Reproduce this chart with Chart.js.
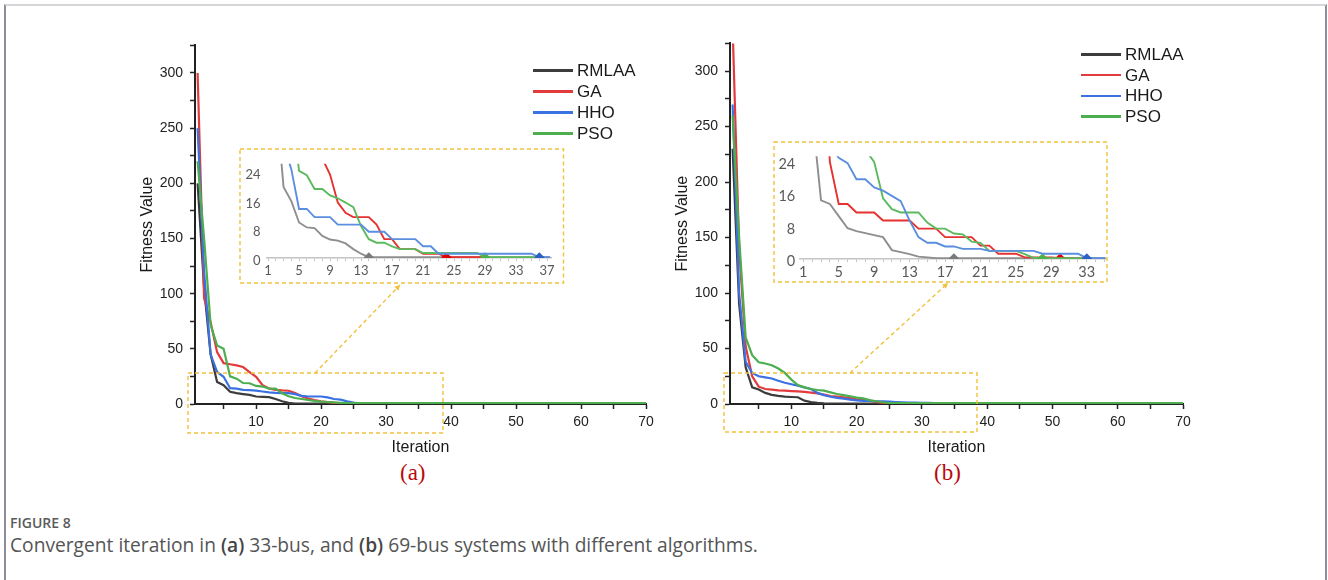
<!DOCTYPE html>
<html>
<head>
<meta charset="utf-8">
<script src="https://cdn.jsdelivr.net/npm/chart.js@4.4.1/dist/chart.umd.min.js"></script>
<style>
  body { margin:0; width:1328px; height:580px; overflow:hidden; position:relative; background:#fff;
         font-family:"Liberation Sans", Arial, sans-serif; }
  #frame { position:absolute; left:4px; top:4px; width:1323px; height:580px; box-sizing:border-box;
           border-top:2px solid #d6d6d8; border-left:2px solid #8e8e9a; border-right:2px solid #8e8e9a; }
  canvas { position:absolute; }
  .leg { position:absolute; height:20px; line-height:20px; font-size:17px; color:#1a1a1a; white-space:nowrap; }
  .leg span { display:inline-block; width:40px; height:2.5px; vertical-align:middle; margin-right:4px; position:relative; top:-1px; }
  .tag { position:absolute; font-family:"Liberation Serif", "Times New Roman", serif; font-size:23px; color:#b80c0c; }
  #figno { position:absolute; left:10px; top:513px; font-family:"Open Sans", Lato, sans-serif; font-size:14px; font-weight:600; color:#5a5a5a; }
  #caption { position:absolute; left:10px; top:531px; font-family:"Open Sans", Lato, sans-serif; font-size:19.2px; color:#555; }
  #caption b { color:#444; font-weight:600; }
</style>
</head>
<body>
<div id="frame"></div>
<canvas id="mainA" width="550" height="430" style="left:120px;top:30px"></canvas>
<canvas id="mainB" width="550" height="432" style="left:655px;top:28px"></canvas>
<canvas id="insetA" width="321" height="132" style="left:241px;top:150px"></canvas>
<canvas id="insetB" width="331" height="138" style="left:775px;top:143px"></canvas>
<div class="tag" style="left:400px;top:460px">(a)</div>
<div class="tag" style="left:934px;top:460px">(b)</div>
<div id="figno">FIGURE 8</div>
<div id="caption">Convergent iteration in <b>(a)</b> 33-bus, and <b>(b)</b> 69-bus systems with different algorithms.</div>
<script>
const seriesNames = ['RMLAA', 'GA', 'HHO', 'PSO'];
const mainColors = ['#3c3c3c', '#e23b3d', '#3b72e2', '#4cae4f'];
const insetColors = ['#8e8e8e', '#e5312f', '#5b8ede', '#5cba5e'];
const markColors = ['#7a7a7a', '#e00000', '#2b62c2', '#4db347'];
const lastIter = 70;

// main axes
const xTicksMain = [5,10,15,20,25,30,35,40,45,50,55,60,65,70];
const xLabelsMain = [10,20,30,40,50,60,70];
const yTicksMain = [0,25,50,75,100,125,150,175,200,225,250,275,300,325];
const yLabelsMain = [0,50,100,150,200,250,300];

// (a) 33-bus, fitness per iteration starting at 1 (last value holds to iteration 70)
const rmlaaA = [200, 105, 45, 20, 17, 11, 9.8, 9, 8.3, 6.8, 6.5, 6.2, 4.5, 2.5, 1, 0.3];
const gaA    = [300, 96, 74, 47, 37, 36, 35, 33.5, 29, 24.7, 17, 14, 12.8, 12.3, 12, 10, 7, 5, 3.5, 2.5, 1.7, 1, 0.5, 0.3];
const hhoA   = [250, 120, 45, 29, 24.7, 14.3, 14, 12.8, 12.5, 12.2, 11.3, 10.5, 10, 9.9, 9.8, 9, 7.4, 6.8, 6.8, 6.8, 6, 4.5, 3.9, 2.4, 1.2, 0.4];
const psoA   = [220, 150, 72, 53, 50, 25, 23, 19, 18.8, 16.4, 15.8, 14, 14, 9.8, 7, 5.4, 4.5, 3.6, 2.8, 2.2, 1.8, 1.4, 1.1, 0.9, 0.8];

// (b) 69-bus
const rmlaaB = [230, 90, 33, 15, 13, 10, 8.2, 7.3, 6.6, 6.3, 6.1, 3, 1.7, 1, 0.5, 0.3];
const gaB    = [340, 140, 52, 25, 15.6, 13.5, 13, 12.3, 12, 11.6, 11.3, 11, 10.3, 9.6, 8.5, 7.2, 6.6, 6.1, 5.3, 4.3, 3.6, 2.9, 1.9, 1, 0.3];
const hhoB   = [270, 100, 38, 28, 25, 24, 23, 21, 19.2, 17.8, 16.5, 15, 13.5, 10, 8, 6.5, 5.5, 4.8, 4, 3.3, 2.9, 2.7, 2.5, 2.4, 2.1, 1.8, 1.5, 1.3, 1.2, 1.1, 1, 0.9, 0.9, 0.5, 0.3];
const psoB   = [260, 150, 60, 44, 37.6, 36.5, 35, 32, 28, 22, 17, 15, 13.5, 12.6, 12, 10.5, 9, 8, 7, 5.8, 5, 3.5, 2.5, 1.6, 0.9, 0.8];

// zoomed insets (iterations 1..37 / 1..35)
const insYTicks = [0, 8, 16, 24];
const insXLabels = [1,5,9,13,17,21,25,29,33,37];

const rmlaaInsA = [200, 45, 20, 16, 10, 8.6, 8.4, 6.2, 5.2, 4.9, 4.1, 2.5, 1.2, 0.2];
const gaInsA    = [300, 96, 74, 47, 37, 36, 34, 28, 23.5, 15.6, 12.7, 11.5, 11.5, 11.5, 9.4, 5.3, 5.3, 2.5, 2.5, 2.5, 1.2, 1.2, 1.2, 0.2];
const hhoInsA   = [250, 100, 32, 25, 13.8, 13.8, 11.5, 11.5, 11.5, 9.4, 9.4, 9.4, 9.4, 7.4, 7.4, 7.4, 5.3, 5.3, 5.3, 5.3, 3.3, 3.3,
                   1.2, 1.2, 1.2, 1.2, 1.2, 1.2, 1.2, 1.2, 1.2, 1.2, 1.2, 1.2, 1.2, 0.2];
const psoInsA   = [220, 150, 72, 43, 24.5, 23.3, 19.4, 19.4, 17.6, 16.8, 15.6, 14.3, 9, 5.3, 4.3, 4.3, 3.3, 2.5, 2.5, 2.5,
                   1.4, 1.4, 1.4, 1.4, 1.4, 1.4, 1.4, 1.4, 0.2];
const endInsA = [37.4, 29, 37.4, 35.3];
const markInsA = [14, 24, 36, 29];

const rmlaaInsB = [230, 36, 14.5, 13.6, 10.6, 7.6, 6.9, 6.4, 5.9, 5.4, 2.2, 1.7, 1.2, 0.6, 0.4, 0.2, 0.2, 0.2];
const gaInsB    = [340, 140, 60, 24, 13.6, 13.6, 11.5, 11.5, 11.5, 9.5, 9.5, 9.5, 9.5, 7.5, 7.5, 7.5, 5.4, 5.4, 5.4, 5.4,
                   3.3, 3.3, 1.3, 1.3, 1.3, 0.4, 0.4, 0.4, 0.4, 0.2];
const hhoInsB   = [270, 100, 40, 28, 25, 23.7, 19.7, 19.7, 17.7, 16.9, 15.6, 14.3, 9.5, 5.4, 4, 4, 3.1, 3.1, 2.5, 2.5, 2.5,
                   2, 2, 2, 2, 2, 2, 1.3, 1.3, 1.3, 1.3, 1.3, 0.2];
const psoInsB   = [260, 150, 60, 44, 38, 36, 33, 27, 24, 15, 12.3, 11.5, 11.5, 11.5, 9, 7.5, 7.5, 6.3, 6.1, 4.3, 4, 2, 2, 2, 2, 1.2, 0.3, 0.2];
const endInsB = [35.2, 33, 35.2, 33];
const markInsB = [18, 30, 33, 28];

function toPoints(vals, endX) {
  const pts = vals.map((v, k) => ({x: k + 1, y: v}));
  pts.push({x: endX, y: vals[vals.length - 1]});
  return pts;
}

// dashed zoom boxes + link line, given in page pixels
function zoomMarks(g) {
  return {
    id: 'zoomMarks',
    afterDraw(chart) {
      const c = chart.ctx;
      c.save();
      c.translate(-g.ox, -g.oy);
      c.strokeStyle = '#f2c03c';
      c.fillStyle = '#f2c03c';
      c.lineWidth = 1.4;
      c.setLineDash([4, 3]);
      c.strokeRect(g.inset[0], g.inset[1], g.inset[2], g.inset[3]);
      c.strokeRect(g.win[0], g.win[1], g.win[2], g.win[3]);
      c.beginPath();
      c.moveTo(g.link[0], g.link[1]);
      c.lineTo(g.link[2], g.link[3]);
      c.stroke();
      c.setLineDash([]);
      const a = Math.atan2(g.link[3] - g.link[1], g.link[2] - g.link[0]);
      c.beginPath();
      c.moveTo(g.link[2], g.link[3]);
      c.lineTo(g.link[2] - 6 * Math.cos(a - 0.5), g.link[3] - 6 * Math.sin(a - 0.5));
      c.lineTo(g.link[2] - 6 * Math.cos(a + 0.5), g.link[3] - 6 * Math.sin(a + 0.5));
      c.closePath();
      c.fill();
      c.restore();
    }
  };
}

const axisFont = {family: '"Liberation Sans", Arial, sans-serif', size: 14};
const titleFont = {family: '"Liberation Sans", Arial, sans-serif', size: 16};

function mainChart(id, series, padRight, marks) {
  const order = [3, 2, 1, 0];
  return new Chart(document.getElementById(id), {
    type: 'line',
    data: {
      datasets: series.map((vals, k) => ({
        label: seriesNames[k],
        data: toPoints(vals, lastIter),
        borderColor: mainColors[k],
        borderWidth: 2.2,
        pointRadius: 0,
        tension: 0,
        order: order[k]
      }))
    },
    options: {
      responsive: false,
      animation: false,
      layout: {padding: {top: 10, right: padRight, left: 0, bottom: 0}},
      plugins: {legend: {display: false}, tooltip: {enabled: false}},
      scales: {
        x: {
          type: 'linear', min: 0.6, max: 70,
          afterBuildTicks: s => { s.ticks = xTicksMain.map(v => ({value: v})); },
          afterFit: s => { s.height = 56; },
          ticks: {callback: v => xLabelsMain.includes(v) ? v : '', autoSkip: false, maxRotation: 0,
                  padding: 5, color: '#222', font: axisFont},
          grid: {drawOnChartArea: false, tickLength: 5, tickColor: '#222', tickWidth: 1.5},
          border: {color: '#222', width: 2},
          title: {display: true, text: 'Iteration', color: '#1a1a1a', font: titleFont, padding: {top: 0, bottom: 2.4}}
        },
        y: {
          min: 0, max: 325,
          afterBuildTicks: s => { s.ticks = yTicksMain.map(v => ({value: v})); },
          afterFit: s => { s.width = 75; },
          ticks: {callback: v => yLabelsMain.includes(v) ? v : '', autoSkip: false, padding: 7, color: '#222', font: axisFont},
          grid: {drawOnChartArea: false, tickLength: 5, tickColor: '#222', tickWidth: 1.5},
          border: {color: '#222', width: 2},
          title: {display: true, text: 'Fitness Value', color: '#1a1a1a', font: titleFont, padding: {top: 18.4, bottom: 0}}
        }
      }
    },
    plugins: [zoomMarks(marks)]
  });
}

function insetChart(id, series, ends, marks, g) {
  const order = [3, 2, 0, 1];
  const xt = [];
  for (let i = 1; i <= g.lastTick; i++) xt.push(i);
  const f = {family: 'Lato, "Open Sans", sans-serif', size: g.font};
  return new Chart(document.getElementById(id), {
    type: 'line',
    data: {
      datasets: series.map((vals, k) => ({
        data: toPoints(vals, ends[k]),
        borderColor: insetColors[k],
        borderWidth: 1.9,
        tension: 0,
        order: order[k],
        pointStyle: 'rectRot',
        pointRadius: ctx => ctx.dataIndex === marks[k] - 1 ? 5 : 0,
        pointBackgroundColor: markColors[k],
        pointBorderWidth: 0
      }))
    },
    options: {
      responsive: false,
      animation: false,
      layout: {padding: {top: 0, right: g.padRight, left: 0, bottom: 0}},
      plugins: {legend: {display: false}, tooltip: {enabled: false}},
      scales: {
        x: {
          type: 'linear', min: g.xmin, max: g.xmax,
          afterBuildTicks: s => { s.ticks = xt.map(v => ({value: v})); },
          afterFit: s => { s.height = g.xh; },
          ticks: {callback: v => insXLabels.includes(v) ? v : '', autoSkip: false, maxRotation: 0,
                  padding: g.xpad, color: '#595959', font: f},
          grid: {drawOnChartArea: false, tickLength: 3, tickColor: '#c4c4c4', tickWidth: 1},
          border: {color: '#c4c4c4', width: 1.5}
        },
        y: {
          min: 0, max: g.ymax,
          afterBuildTicks: s => { s.ticks = insYTicks.map(v => ({value: v})); },
          afterFit: s => { s.width = g.yw; },
          ticks: {padding: g.ypad, labelOffset: 2.5, color: '#595959', font: f},
          grid: {display: false, drawTicks: false},
          border: {display: false}
        }
      }
    }
  });
}

mainChart('mainA', [rmlaaA, gaA, hhoA, psoA], 24,
  {ox: 120, oy: 30, inset: [240, 149, 323.5, 134], win: [188, 373, 255, 60], link: [315, 373, 400, 285]});
mainChart('mainB', [rmlaaB, gaB, hhoB, psoB], 22,
  {ox: 655, oy: 28, inset: [774, 142, 333, 140], win: [724, 373, 253, 59], link: [850, 373, 948, 283]});

insetChart('insetA', [rmlaaInsA, gaInsA, hhoInsA, psoInsA], endInsA, markInsA,
  {lastTick: 37, xmin: 0.8, xmax: 37.6, ymax: 26.5, xh: 24, yw: 25.5, padRight: 10.3, xpad: 2, ypad: 6, font: 13});
insetChart('insetB', [rmlaaInsB, gaInsB, hhoInsB, psoInsB], endInsB, markInsB,
  {lastTick: 35, xmin: 0.6, xmax: 35.1, ymax: 25.4, xh: 22, yw: 24.75, padRight: 0, xpad: 1.5, ypad: 4.5, font: 14.5});

function legend(left, top, step) {
  seriesNames.forEach((name, k) => {
    const row = document.createElement('div');
    row.className = 'leg';
    row.style.left = left + 'px';
    row.style.top = (top + k * step) + 'px';
    row.innerHTML = '<span style="background:' + mainColors[k] + '"></span>' + name;
    document.body.appendChild(row);
  });
}
legend(533, 61, 21);
legend(1081, 45, 20.7);
</script>
</body>
</html>
